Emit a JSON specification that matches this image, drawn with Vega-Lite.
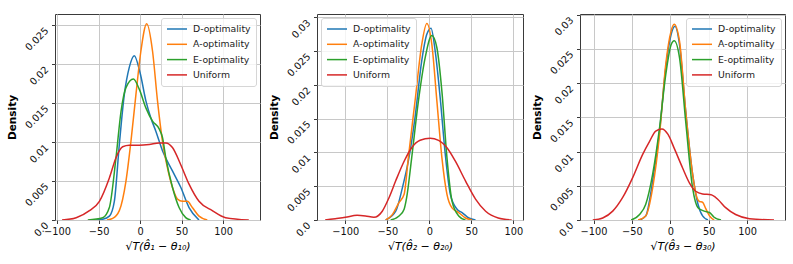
{
  "$schema": "https://vega.github.io/schema/vega-lite/v6.json",
  "padding": {"left": 7, "top": 13, "right": 5, "bottom": 5},
  "spacing": 8,
  "config": {
    "font": "DejaVu Sans",
    "view": {"stroke": "#3a3a3a", "strokeWidth": 1},
    "axis": {
      "domain": false, "grid": true, "gridColor": "#c8c8c8", "gridWidth": 1,
      "tickColor": "#3a3a3a", "tickSize": 3.5, "labelColor": "#111", "labelFontSize": 9.8,
      "titleColor": "#000", "labelFont": "DejaVu Sans", "titleFont": "DejaVu Sans"
    },
    "axisX": {"titleFontSize": 11, "titleFontWeight": "normal", "titlePadding": 5, "labelPadding": 2.5},
    "axisY": {"titleFontSize": 10.5, "titleFontWeight": "bold", "labelAngle": -45, "labelAlign": "right", "labelBaseline": "top", "labelPadding": 8.5, "titlePadding": 7.5, "minExtent": 30, "maxExtent": 30},
    "legend": {
      "offset": 4, "title": null, "strokeColor": "#d6d6d6", "fillColor": "rgba(255,255,255,0.8)",
      "padding": 5, "cornerRadius": 2.5, "symbolType": "M-2,0H2", "symbolStrokeWidth": 2, "symbolSize": 100,
      "symbolOffset": 5, "labelOffset": 10,
      "labelFontSize": 9.3, "labelFont": "DejaVu Sans", "labelColor": "#222", "rowPadding": 3.3
    },
    "line": {"strokeWidth": 1.5, "interpolate": "monotone"}
  },
  "data": {"values": [
    {"p":1,"m":"D-optimality","x":-53,"d":0},{"p":1,"m":"D-optimality","x":-45,"d":0.0001},{"p":1,"m":"D-optimality","x":-37,"d":0.0005},{"p":1,"m":"D-optimality","x":-31,"d":0.0024},{"p":1,"m":"D-optimality","x":-25,"d":0.0097},{"p":1,"m":"D-optimality","x":-19,"d":0.0161},{"p":1,"m":"D-optimality","x":-13,"d":0.0196},{"p":1,"m":"D-optimality","x":-7,"d":0.0211},{"p":1,"m":"D-optimality","x":0,"d":0.0189},{"p":1,"m":"D-optimality","x":7,"d":0.0153},{"p":1,"m":"D-optimality","x":13,"d":0.0131},{"p":1,"m":"D-optimality","x":19,"d":0.0114},{"p":1,"m":"D-optimality","x":27,"d":0.0089},{"p":1,"m":"D-optimality","x":39,"d":0.0063},{"p":1,"m":"D-optimality","x":49,"d":0.0042},{"p":1,"m":"D-optimality","x":59,"d":0.0016},{"p":1,"m":"D-optimality","x":71,"d":0},
    {"p":1,"m":"A-optimality","x":-40,"d":0},{"p":1,"m":"A-optimality","x":-33,"d":0.0002},{"p":1,"m":"A-optimality","x":-25,"d":0.0012},{"p":1,"m":"A-optimality","x":-17,"d":0.005},{"p":1,"m":"A-optimality","x":-11,"d":0.0101},{"p":1,"m":"A-optimality","x":-5,"d":0.0161},{"p":1,"m":"A-optimality","x":1,"d":0.0217},{"p":1,"m":"A-optimality","x":8,"d":0.0252},{"p":1,"m":"A-optimality","x":15,"d":0.0217},{"p":1,"m":"A-optimality","x":21,"d":0.0153},{"p":1,"m":"A-optimality","x":27,"d":0.0101},{"p":1,"m":"A-optimality","x":33,"d":0.0067},{"p":1,"m":"A-optimality","x":39,"d":0.0042},{"p":1,"m":"A-optimality","x":45,"d":0.0027},{"p":1,"m":"A-optimality","x":51,"d":0.0024},{"p":1,"m":"A-optimality","x":57,"d":0.0024},{"p":1,"m":"A-optimality","x":63,"d":0.0016},{"p":1,"m":"A-optimality","x":71,"d":0.0005},{"p":1,"m":"A-optimality","x":81,"d":0},
    {"p":1,"m":"E-optimality","x":-63,"d":0},{"p":1,"m":"E-optimality","x":-45,"d":0.0003},{"p":1,"m":"E-optimality","x":-37,"d":0.0016},{"p":1,"m":"E-optimality","x":-29,"d":0.008},{"p":1,"m":"E-optimality","x":-23,"d":0.0139},{"p":1,"m":"E-optimality","x":-17,"d":0.017},{"p":1,"m":"E-optimality","x":-8,"d":0.0181},{"p":1,"m":"E-optimality","x":-1,"d":0.0168},{"p":1,"m":"E-optimality","x":7,"d":0.0144},{"p":1,"m":"E-optimality","x":15,"d":0.0127},{"p":1,"m":"E-optimality","x":23,"d":0.0117},{"p":1,"m":"E-optimality","x":27,"d":0.0106},{"p":1,"m":"E-optimality","x":31,"d":0.008},{"p":1,"m":"E-optimality","x":39,"d":0.0042},{"p":1,"m":"E-optimality","x":47,"d":0.0016},{"p":1,"m":"E-optimality","x":55,"d":0.0003},{"p":1,"m":"E-optimality","x":61,"d":0},
    {"p":1,"m":"Uniform","x":-94,"d":0},{"p":1,"m":"Uniform","x":-77,"d":0.0003},{"p":1,"m":"Uniform","x":-61,"d":0.0012},{"p":1,"m":"Uniform","x":-49,"d":0.0024},{"p":1,"m":"Uniform","x":-37,"d":0.0054},{"p":1,"m":"Uniform","x":-29,"d":0.008},{"p":1,"m":"Uniform","x":-21,"d":0.0094},{"p":1,"m":"Uniform","x":-13,"d":0.0096},{"p":1,"m":"Uniform","x":-1,"d":0.0096},{"p":1,"m":"Uniform","x":11,"d":0.0097},{"p":1,"m":"Uniform","x":23,"d":0.0099},{"p":1,"m":"Uniform","x":31,"d":0.0099},{"p":1,"m":"Uniform","x":39,"d":0.0093},{"p":1,"m":"Uniform","x":49,"d":0.0071},{"p":1,"m":"Uniform","x":59,"d":0.0046},{"p":1,"m":"Uniform","x":71,"d":0.0024},{"p":1,"m":"Uniform","x":87,"d":0.0012},{"p":1,"m":"Uniform","x":103,"d":0.0003},{"p":1,"m":"Uniform","x":131,"d":0},
    {"p":2,"m":"D-optimality","x":-52,"d":0},{"p":2,"m":"D-optimality","x":-40,"d":0.0013},{"p":2,"m":"D-optimality","x":-32,"d":0.0048},{"p":2,"m":"D-optimality","x":-25,"d":0.0087},{"p":2,"m":"D-optimality","x":-17,"d":0.0152},{"p":2,"m":"D-optimality","x":-9,"d":0.0236},{"p":2,"m":"D-optimality","x":-3,"d":0.0275},{"p":2,"m":"D-optimality","x":2,"d":0.0284},{"p":2,"m":"D-optimality","x":7,"d":0.025},{"p":2,"m":"D-optimality","x":13,"d":0.018},{"p":2,"m":"D-optimality","x":19,"d":0.0097},{"p":2,"m":"D-optimality","x":25,"d":0.0038},{"p":2,"m":"D-optimality","x":33,"d":0.0016},{"p":2,"m":"D-optimality","x":39,"d":0.0011},{"p":2,"m":"D-optimality","x":47,"d":0.0003},{"p":2,"m":"D-optimality","x":55,"d":0},
    {"p":2,"m":"A-optimality","x":-52,"d":0},{"p":2,"m":"A-optimality","x":-44,"d":0.0008},{"p":2,"m":"A-optimality","x":-36,"d":0.0026},{"p":2,"m":"A-optimality","x":-30,"d":0.0038},{"p":2,"m":"A-optimality","x":-25,"d":0.0092},{"p":2,"m":"A-optimality","x":-17,"d":0.0176},{"p":2,"m":"A-optimality","x":-9,"d":0.026},{"p":2,"m":"A-optimality","x":-3,"d":0.0291},{"p":2,"m":"A-optimality","x":3,"d":0.026},{"p":2,"m":"A-optimality","x":9,"d":0.0176},{"p":2,"m":"A-optimality","x":15,"d":0.0092},{"p":2,"m":"A-optimality","x":21,"d":0.0038},{"p":2,"m":"A-optimality","x":27,"d":0.0018},{"p":2,"m":"A-optimality","x":35,"d":0.0011},{"p":2,"m":"A-optimality","x":43,"d":0.0003},{"p":2,"m":"A-optimality","x":51,"d":0},
    {"p":2,"m":"E-optimality","x":-46,"d":0},{"p":2,"m":"E-optimality","x":-36,"d":0.0006},{"p":2,"m":"E-optimality","x":-30,"d":0.0016},{"p":2,"m":"E-optimality","x":-27,"d":0.0033},{"p":2,"m":"E-optimality","x":-21,"d":0.0092},{"p":2,"m":"E-optimality","x":-13,"d":0.0176},{"p":2,"m":"E-optimality","x":-5,"d":0.024},{"p":2,"m":"E-optimality","x":3,"d":0.0273},{"p":2,"m":"E-optimality","x":9,"d":0.0255},{"p":2,"m":"E-optimality","x":15,"d":0.019},{"p":2,"m":"E-optimality","x":21,"d":0.0092},{"p":2,"m":"E-optimality","x":27,"d":0.0028},{"p":2,"m":"E-optimality","x":35,"d":0.0006},{"p":2,"m":"E-optimality","x":43,"d":0},
    {"p":2,"m":"Uniform","x":-124,"d":0},{"p":2,"m":"Uniform","x":-112,"d":0.0002},{"p":2,"m":"Uniform","x":-100,"d":0.0004},{"p":2,"m":"Uniform","x":-86,"d":0.0007},{"p":2,"m":"Uniform","x":-76,"d":0.0006},{"p":2,"m":"Uniform","x":-66,"d":0.0004},{"p":2,"m":"Uniform","x":-56,"d":0.0013},{"p":2,"m":"Uniform","x":-48,"d":0.0033},{"p":2,"m":"Uniform","x":-40,"d":0.0058},{"p":2,"m":"Uniform","x":-30,"d":0.0087},{"p":2,"m":"Uniform","x":-21,"d":0.0107},{"p":2,"m":"Uniform","x":-11,"d":0.0118},{"p":2,"m":"Uniform","x":1,"d":0.0121},{"p":2,"m":"Uniform","x":11,"d":0.0118},{"p":2,"m":"Uniform","x":21,"d":0.0107},{"p":2,"m":"Uniform","x":31,"d":0.0087},{"p":2,"m":"Uniform","x":43,"d":0.0058},{"p":2,"m":"Uniform","x":55,"d":0.0031},{"p":2,"m":"Uniform","x":67,"d":0.0013},{"p":2,"m":"Uniform","x":82,"d":0.0003},{"p":2,"m":"Uniform","x":98,"d":0},
    {"p":3,"m":"D-optimality","x":-40,"d":0},{"p":3,"m":"D-optimality","x":-32,"d":0.0006},{"p":3,"m":"D-optimality","x":-23,"d":0.0057},{"p":3,"m":"D-optimality","x":-14,"d":0.013},{"p":3,"m":"D-optimality","x":-6,"d":0.0222},{"p":3,"m":"D-optimality","x":1,"d":0.0271},{"p":3,"m":"D-optimality","x":6,"d":0.0283},{"p":3,"m":"D-optimality","x":12,"d":0.0256},{"p":3,"m":"D-optimality","x":20,"d":0.0159},{"p":3,"m":"D-optimality","x":29,"d":0.0067},{"p":3,"m":"D-optimality","x":36,"d":0.0023},{"p":3,"m":"D-optimality","x":42,"d":0.0006},{"p":3,"m":"D-optimality","x":49,"d":0},
    {"p":3,"m":"A-optimality","x":-42,"d":0},{"p":3,"m":"A-optimality","x":-32,"d":0.0006},{"p":3,"m":"A-optimality","x":-23,"d":0.0047},{"p":3,"m":"A-optimality","x":-14,"d":0.0125},{"p":3,"m":"A-optimality","x":-6,"d":0.0227},{"p":3,"m":"A-optimality","x":1,"d":0.0276},{"p":3,"m":"A-optimality","x":5,"d":0.0286},{"p":3,"m":"A-optimality","x":12,"d":0.0261},{"p":3,"m":"A-optimality","x":20,"d":0.0159},{"p":3,"m":"A-optimality","x":29,"d":0.0067},{"p":3,"m":"A-optimality","x":34,"d":0.0035},{"p":3,"m":"A-optimality","x":38,"d":0.0027},{"p":3,"m":"A-optimality","x":42,"d":0.0026},{"p":3,"m":"A-optimality","x":46,"d":0.0017},{"p":3,"m":"A-optimality","x":51,"d":0.0006},{"p":3,"m":"A-optimality","x":57,"d":0},
    {"p":3,"m":"E-optimality","x":-51,"d":0},{"p":3,"m":"E-optimality","x":-40,"d":0.0008},{"p":3,"m":"E-optimality","x":-32,"d":0.0023},{"p":3,"m":"E-optimality","x":-23,"d":0.0067},{"p":3,"m":"E-optimality","x":-14,"d":0.0135},{"p":3,"m":"E-optimality","x":-6,"d":0.0212},{"p":3,"m":"E-optimality","x":1,"d":0.0256},{"p":3,"m":"E-optimality","x":5,"d":0.0262},{"p":3,"m":"E-optimality","x":12,"d":0.0237},{"p":3,"m":"E-optimality","x":20,"d":0.0144},{"p":3,"m":"E-optimality","x":29,"d":0.0047},{"p":3,"m":"E-optimality","x":36,"d":0.0018},{"p":3,"m":"E-optimality","x":44,"d":0.0013},{"p":3,"m":"E-optimality","x":51,"d":0.0011},{"p":3,"m":"E-optimality","x":57,"d":0.0004},{"p":3,"m":"E-optimality","x":66,"d":0},
    {"p":3,"m":"Uniform","x":-101,"d":0},{"p":3,"m":"Uniform","x":-88,"d":0.0003},{"p":3,"m":"Uniform","x":-75,"d":0.0013},{"p":3,"m":"Uniform","x":-62,"d":0.0033},{"p":3,"m":"Uniform","x":-49,"d":0.0062},{"p":3,"m":"Uniform","x":-36,"d":0.0096},{"p":3,"m":"Uniform","x":-27,"d":0.0115},{"p":3,"m":"Uniform","x":-19,"d":0.013},{"p":3,"m":"Uniform","x":-11,"d":0.0133},{"p":3,"m":"Uniform","x":-3,"d":0.0125},{"p":3,"m":"Uniform","x":5,"d":0.0105},{"p":3,"m":"Uniform","x":16,"d":0.0076},{"p":3,"m":"Uniform","x":25,"d":0.0054},{"p":3,"m":"Uniform","x":33,"d":0.0042},{"p":3,"m":"Uniform","x":42,"d":0.0038},{"p":3,"m":"Uniform","x":53,"d":0.0037},{"p":3,"m":"Uniform","x":62,"d":0.003},{"p":3,"m":"Uniform","x":72,"d":0.0018},{"p":3,"m":"Uniform","x":85,"d":0.0008},{"p":3,"m":"Uniform","x":103,"d":0.0002},{"p":3,"m":"Uniform","x":135,"d":0}
  ]},
  "resolve": {"legend": {"color": "independent"}},
  "hconcat": [
    {
      "width": 205, "height": 206,
      "transform": [{"filter": "datum.p == 1"}],
      "mark": {"type": "line", "clip": true},
      "encoding": {
        "x": {"field": "x", "type": "quantitative", "scale": {"domain": [-102.5, 144.5], "nice": false, "zero": false},
              "axis": {"values": [-100, -50, 0, 50, 100], "title": "√T(θ̂₁ − θ₁₀)", "titleFontStyle": "italic"}},
        "y": {"field": "d", "type": "quantitative", "scale": {"domain": [0, 0.02645], "nice": false},
              "axis": {"values": [0, 0.005, 0.01, 0.015, 0.02, 0.025], "title": "Density", "labelExpr": "datum.value == 0 ? '0.0' : format(datum.value, '~g')"}},
        "color": {"field": "m", "type": "nominal", "sort": ["D-optimality", "A-optimality", "E-optimality", "Uniform"],
                  "scale": {"domain": ["D-optimality", "A-optimality", "E-optimality", "Uniform"], "range": ["#1f77b4", "#ff7f0e", "#2ca02c", "#d62728"]},
                  "legend": {"orient": "top-right"}}
      }
    },
    {
      "width": 206, "height": 206,
      "transform": [{"filter": "datum.p == 2"}],
      "mark": {"type": "line", "clip": true},
      "encoding": {
        "x": {"field": "x", "type": "quantitative", "scale": {"domain": [-133.7, 111.5], "nice": false, "zero": false},
              "axis": {"values": [-100, -50, 0, 50, 100], "title": "√T(θ̂₂ − θ₂₀)", "titleFontStyle": "italic"}},
        "y": {"field": "d", "type": "quantitative", "scale": {"domain": [0, 0.0305], "nice": false},
              "axis": {"values": [0, 0.005, 0.01, 0.015, 0.02, 0.025, 0.03], "title": "Density", "labelExpr": "datum.value == 0 ? '0.0' : format(datum.value, '~g')"}},
        "color": {"field": "m", "type": "nominal", "sort": ["D-optimality", "A-optimality", "E-optimality", "Uniform"],
                  "scale": {"domain": ["D-optimality", "A-optimality", "E-optimality", "Uniform"], "range": ["#1f77b4", "#ff7f0e", "#2ca02c", "#d62728"]},
                  "legend": {"orient": "top-left"}}
      }
    },
    {
      "width": 205, "height": 206,
      "transform": [{"filter": "datum.p == 3"}],
      "mark": {"type": "line", "clip": true},
      "encoding": {
        "x": {"field": "x", "type": "quantitative", "scale": {"domain": [-117.6, 149.3], "nice": false, "zero": false},
              "axis": {"values": [-100, -50, 0, 50, 100], "title": "√T(θ̂₃ − θ₃₀)", "titleFontStyle": "italic"}},
        "y": {"field": "d", "type": "quantitative", "scale": {"domain": [0, 0.0301], "nice": false},
              "axis": {"values": [0, 0.005, 0.01, 0.015, 0.02, 0.025, 0.03], "title": "Density", "labelExpr": "datum.value == 0 ? '0.0' : format(datum.value, '~g')"}},
        "color": {"field": "m", "type": "nominal", "sort": ["D-optimality", "A-optimality", "E-optimality", "Uniform"],
                  "scale": {"domain": ["D-optimality", "A-optimality", "E-optimality", "Uniform"], "range": ["#1f77b4", "#ff7f0e", "#2ca02c", "#d62728"]},
                  "legend": {"orient": "top-right"}}
      }
    }
  ]
}
